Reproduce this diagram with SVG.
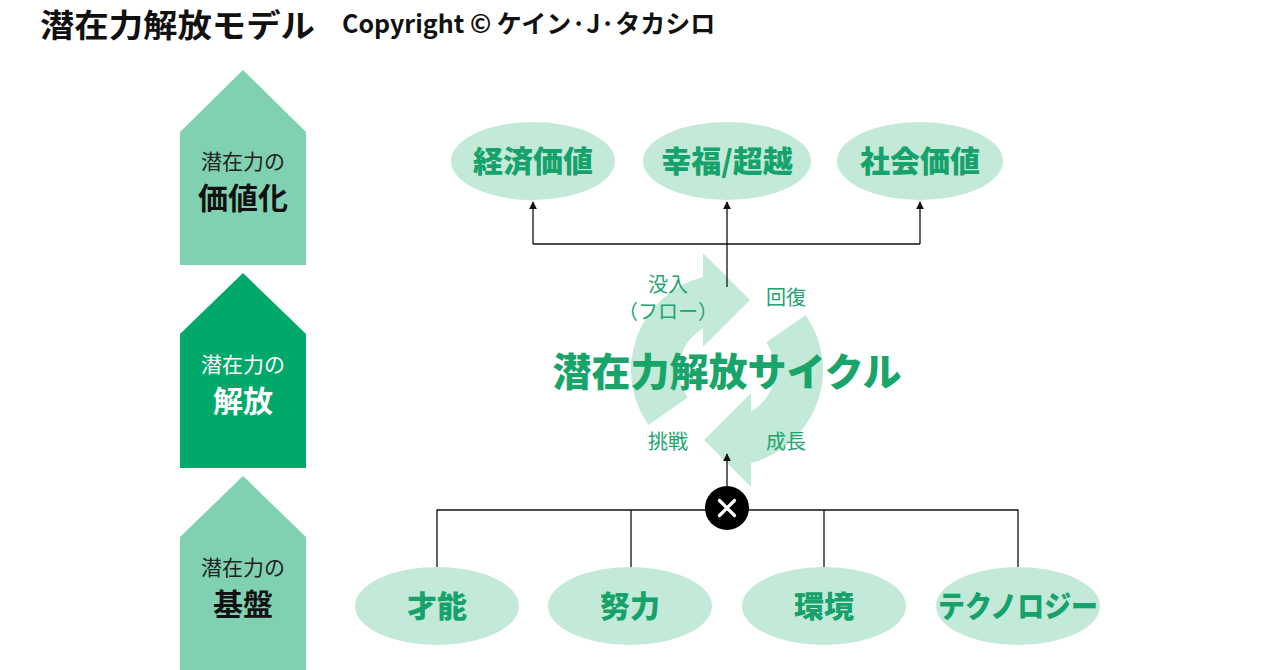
<svg xmlns="http://www.w3.org/2000/svg" width="1280" height="670" viewBox="0 0 1280 670">
<defs>
<style>
.jp{font-family:"Noto Sans CJK JP","Noto Sans",sans-serif}
.hd{font-family:"Noto Sans CJK JP","Liberation Sans",sans-serif;font-weight:700;fill:#111}
.lbl{font-family:"Noto Sans CJK JP",sans-serif;font-size:21px;fill:#222;text-anchor:middle}
.big{font-family:"Noto Sans CJK JP",sans-serif;font-size:30px;font-weight:700;fill:#111;text-anchor:middle}
.oval{fill:#c3e9d9}
.ot{font-family:"Noto Sans CJK JP",sans-serif;font-size:30px;font-weight:900;fill:#16a26b;text-anchor:middle}
.cy{fill:#c3e9d9}
.cl{font-family:"Noto Sans CJK JP",sans-serif;font-size:20px;fill:#20a46e;text-anchor:middle}
.ln{stroke:#111;stroke-width:1.3;fill:none}
</style>
<marker id="ah" viewBox="0 0 10 10" refX="9" refY="5" markerWidth="8" markerHeight="8" markerUnits="userSpaceOnUse" orient="auto">
<path d="M0,0 L10,5 L0,10 Z" fill="#111"/>
</marker>
</defs>
<rect width="1280" height="670" fill="#fff"/>

<g id="header">
<text x="40" y="37" class="hd" font-size="32" textLength="275" lengthAdjust="spacingAndGlyphs">潜在力解放モデル</text>
<text x="342" y="33" class="hd" font-size="25">Copyright © ケイン·J·タカシロ</text>
</g>

<g id="stage-value">
<path d="M180,132 L243,70 L306,132 L306,265 L180,265 Z" fill="#80d1b2"/>
<text x="243" y="169" class="lbl">潜在力の</text>
<text x="243" y="209" class="big">価値化</text>
</g>
<g id="stage-release">
<path d="M180,334 L243,273 L306,334 L306,468 L180,468 Z" fill="#00a86a"/>
<text x="243" y="372" class="lbl" style="fill:#fff">潜在力の</text>
<text x="243" y="412" class="big" style="fill:#fff">解放</text>
</g>
<g id="stage-base">
<path d="M180,537 L243,476 L306,537 L306,670 L180,670 Z" fill="#80d1b2"/>
<text x="243" y="575" class="lbl">潜在力の</text>
<text x="243" y="615" class="big">基盤</text>
</g>

<g id="cycle">
<path class="cy" d="M648.4,425.1 A96,96 0 0 1 703,277 L703,253 L750,300 L703,347 L703,328.4 A48,48 0 0 0 687.7,397.5 Z"/>
<path class="cy" d="M648.4,425.1 A96,96 0 0 1 703,277 L703,253 L750,300 L703,347 L703,328.4 A48,48 0 0 0 687.7,397.5 Z" transform="rotate(180 727 370)"/>
</g>

<g id="connectors">
<path class="ln" d="M533,244 L920,244"/>
<path class="ln" d="M533,244 L533,202" marker-end="url(#ah)"/>
<path class="ln" d="M920,244 L920,202" marker-end="url(#ah)"/>
<path class="ln" d="M727,287 L727,202" marker-end="url(#ah)"/>
<path class="ln" d="M437,570 L437,510 L1018,510 L1018,570"/>
<path class="ln" d="M631,510 L631,570"/>
<path class="ln" d="M824,510 L824,570"/>
<path class="ln" d="M727,486 L727,454" marker-end="url(#ah)"/>
</g>

<g id="n-keizai"><ellipse class="oval" cx="533" cy="161" rx="82" ry="39"/><text x="533" y="172" class="ot">経済価値</text></g>
<g id="n-koufuku"><ellipse class="oval" cx="727" cy="161" rx="84" ry="39"/><text x="727" y="172" class="ot">幸福/超越</text></g>
<g id="n-shakai"><ellipse class="oval" cx="920" cy="161" rx="83" ry="39"/><text x="920" y="172" class="ot">社会価値</text></g>

<g id="n-sainou"><ellipse class="oval" cx="437" cy="606" rx="82" ry="39"/><text x="437" y="617" class="ot">才能</text></g>
<g id="n-doryoku"><ellipse class="oval" cx="630" cy="606" rx="82" ry="39"/><text x="630" y="617" class="ot">努力</text></g>
<g id="n-kankyou"><ellipse class="oval" cx="824" cy="606" rx="82" ry="39"/><text x="824" y="617" class="ot">環境</text></g>
<g id="n-tech"><ellipse class="oval" cx="1018" cy="606" rx="82" ry="39"/><text x="1018" y="617" class="ot" textLength="160" lengthAdjust="spacingAndGlyphs">テクノロジー</text></g>

<g id="cross">
<circle cx="727" cy="508" r="22" fill="#000"/>
<path d="M719.5,500.5 L734.5,515.5 M734.5,500.5 L719.5,515.5" stroke="#fff" stroke-width="3.2" stroke-linecap="round"/>
</g>

<g id="cycle-labels">
<text x="668" y="292" class="cl">没入</text>
<text x="668" y="319" class="cl">（フロー）</text>
<text x="786" y="305" class="cl">回復</text>
<text x="668" y="449" class="cl">挑戦</text>
<text x="786" y="449" class="cl">成長</text>
</g>

<g id="cycle-title">
<text x="727" y="386" class="jp" font-size="39" font-weight="900" fill="#19a56a" text-anchor="middle">潜在力解放サイクル</text>
</g>
</svg>
